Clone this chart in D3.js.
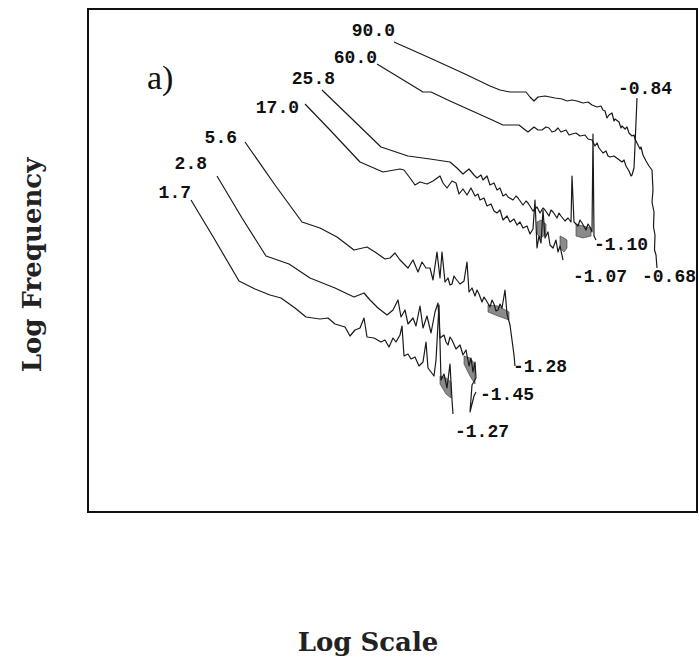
<!DOCTYPE html>
<html>
<head>
<meta charset="utf-8">
<script src="https://cdn.jsdelivr.net/npm/d3@7"></script>
<style>
  body { margin: 0; background: #fff; }
  svg { display: block; }
  .frame { fill: none; stroke: #111; stroke-width: 2; }
  .curve { fill: none; stroke: #1a1a1a; stroke-width: 1.2; stroke-linejoin: round; }
  .shade { fill: #8a8a8a; stroke: #333; stroke-width: 0.6; }
  .lbl { font-family: "Liberation Mono", monospace; font-weight: bold; font-size: 18px; fill: #111; }
  .panel { font-family: "Liberation Serif", serif; font-size: 34px; fill: #111; }
  .axis-title { font-family: "DejaVu Serif", serif; font-weight: bold; font-size: 26px; fill: #222; }
</style>
</head>
<body>
<svg id="chart"></svg>
<script>
// Log-log frequency spectra, one curve per scale.
// x = log scale, y = log frequency (arbitrary log units, no ticks in the original)

const curveLabels = ["90.0", "60.0", "25.8", "17.0", "5.6", "2.8", "1.7"];
const slopeLabels = ["-0.68", "-0.84", "-1.10", "-1.07", "-1.28", "-1.45", "-1.27"];

const s900 = [[3.06,4.70],[3.42,4.54],[3.77,4.38],[4.02,4.26],[4.12,4.22],[4.22,4.20],[4.38,4.20],[4.42,4.15],[4.46,4.11],[4.50,4.15],[4.57,4.16],[4.67,4.14],[4.74,4.13],[4.79,4.11],[4.84,4.12],[4.89,4.11],[4.95,4.09],[5.00,4.10],[5.04,4.07],[5.09,4.05],[5.13,4.06],[5.15,4.02],[5.17,4.01],[5.19,3.94],[5.21,3.97],[5.24,3.99],[5.26,3.91],[5.27,3.93],[5.31,3.90],[5.33,3.84],[5.34,3.86],[5.37,3.83],[5.39,3.85],[5.41,3.79],[5.44,3.76],[5.46,3.77],[5.47,3.73],[5.49,3.69],[5.52,3.63],[5.53,3.65],[5.55,3.57],[5.58,3.51],[5.61,3.46],[5.64,3.42],[5.65,3.22],[5.64,3.10],[5.66,3.00],[5.655,2.85],[5.67,2.77],[5.665,2.62],[5.68,2.57],[5.69,2.44]];
const s600 = [[2.89,4.48],[3.12,4.34],[3.35,4.20],[3.43,4.20],[3.62,4.11],[3.82,4.02],[4.02,3.93],[4.15,3.87],[4.31,3.87],[4.36,3.83],[4.40,3.80],[4.46,3.85],[4.50,3.82],[4.54,3.82],[4.58,3.85],[4.61,3.84],[4.64,3.80],[4.67,3.81],[4.70,3.84],[4.73,3.80],[4.78,3.82],[4.81,3.77],[4.84,3.78],[4.88,3.79],[4.92,3.76],[4.97,3.77],[5.00,3.73],[5.04,3.72],[5.07,3.66],[5.09,3.69],[5.11,3.64],[5.15,3.59],[5.18,3.61],[5.20,3.56],[5.22,3.55],[5.26,3.56],[5.30,3.53],[5.34,3.50],[5.36,3.52],[5.38,3.46],[5.41,3.41],[5.43,3.36],[5.44,3.37],[5.46,3.44],[5.47,3.66],[5.49,4.14]];
const s258 = [[2.34,4.22],[2.62,3.95],[2.93,3.65],[3.20,3.56],[3.42,3.53],[3.62,3.50],[3.69,3.44],[3.75,3.38],[3.81,3.43],[3.86,3.37],[3.89,3.34],[3.93,3.37],[3.95,3.32],[3.99,3.36],[4.02,3.27],[4.06,3.29],[4.09,3.22],[4.12,3.24],[4.15,3.16],[4.18,3.18],[4.20,3.15],[4.25,3.12],[4.28,3.16],[4.30,3.14],[4.35,3.07],[4.38,3.11],[4.40,3.09],[4.45,3.01],[4.49,3.05],[4.52,2.99],[4.55,3.04],[4.57,3.02],[4.61,2.96],[4.63,3.02],[4.65,3.00],[4.69,2.94],[4.71,2.99],[4.73,2.96],[4.77,2.91],[4.80,2.94],[4.83,2.90],[4.84,3.36],[4.86,2.90],[4.90,2.86],[4.92,2.92],[4.94,2.89],[4.98,2.82],[5.00,2.88],[5.02,2.85],[5.04,2.80],[5.05,3.78],[5.06,2.76],[5.08,2.72]];
const s170 = [[2.17,4.08],[2.42,3.82],[2.72,3.50],[2.95,3.40],[3.12,3.43],[3.16,3.42],[3.22,3.34],[3.27,3.27],[3.32,3.30],[3.39,3.28],[3.45,3.31],[3.52,3.36],[3.55,3.29],[3.59,3.24],[3.64,3.31],[3.68,3.29],[3.71,3.18],[3.75,3.23],[3.79,3.17],[3.83,3.24],[3.87,3.16],[3.90,3.18],[3.92,3.12],[3.96,3.14],[3.99,3.06],[4.03,3.08],[4.06,3.01],[4.09,2.99],[4.12,3.02],[4.15,2.92],[4.19,2.96],[4.22,2.90],[4.26,2.93],[4.29,2.87],[4.32,2.90],[4.35,2.84],[4.39,2.86],[4.42,2.78],[4.45,2.83],[4.47,3.12],[4.49,2.64],[4.51,2.76],[4.53,2.69],[4.55,3.02],[4.57,2.74],[4.60,2.80],[4.62,2.67],[4.65,2.64],[4.68,2.72],[4.70,2.60],[4.72,2.66],[4.75,2.52]];
const s56 = [[1.57,3.70],[1.87,3.27],[2.14,2.90],[2.32,2.84],[2.49,2.75],[2.66,2.62],[2.79,2.65],[2.87,2.60],[2.97,2.53],[3.02,2.54],[3.07,2.59],[3.12,2.52],[3.17,2.47],[3.20,2.44],[3.25,2.52],[3.30,2.40],[3.34,2.50],[3.38,2.44],[3.42,2.44],[3.45,2.32],[3.49,2.60],[3.52,2.34],[3.54,2.60],[3.57,2.30],[3.60,2.34],[3.62,2.27],[3.64,2.28],[3.66,2.36],[3.68,2.33],[3.72,2.28],[3.76,2.31],[3.79,2.50],[3.81,2.20],[3.84,2.24],[3.87,2.16],[3.89,2.22],[3.91,2.18],[3.94,2.10],[3.96,2.15],[3.98,2.12],[4.02,2.05],[4.04,2.12],[4.06,2.08],[4.08,2.01],[4.10,2.02],[4.12,2.08],[4.14,2.04],[4.17,2.22],[4.19,1.98],[4.22,1.87],[4.24,1.72],[4.26,1.57],[4.27,1.46]];
const s28 = [[1.29,3.36],[1.54,2.94],[1.78,2.56],[2.01,2.48],[2.22,2.34],[2.47,2.24],[2.66,2.15],[2.76,2.19],[2.82,2.12],[2.90,2.04],[2.99,1.97],[3.05,2.02],[3.10,2.12],[3.13,1.95],[3.17,2.02],[3.20,1.88],[3.25,1.94],[3.28,1.86],[3.32,2.06],[3.35,1.84],[3.39,1.96],[3.43,1.79],[3.47,2.00],[3.50,2.09],[3.52,1.74],[3.56,1.77],[3.58,1.70],[3.60,1.67],[3.62,1.75],[3.64,1.72],[3.68,1.63],[3.72,1.67],[3.75,1.57],[3.78,1.62],[3.81,1.46],[3.83,1.54],[3.85,1.40],[3.87,1.50],[3.88,1.34],[3.84,1.27],[3.82,1.00],[3.86,1.16],[3.88,1.20]];
const s17 = [[1.03,3.12],[1.27,2.72],[1.51,2.31],[1.67,2.23],[1.82,2.17],[1.93,2.14],[2.07,2.04],[2.18,1.95],[2.32,1.93],[2.40,1.94],[2.47,1.88],[2.57,1.85],[2.62,1.76],[2.67,1.82],[2.72,1.84],[2.76,1.94],[2.79,1.75],[2.86,1.74],[2.93,1.70],[2.97,1.72],[3.01,1.65],[3.05,1.74],[3.08,1.70],[3.12,1.77],[3.14,1.86],[3.16,1.56],[3.20,1.58],[3.23,1.53],[3.27,1.55],[3.31,1.46],[3.35,1.50],[3.38,1.70],[3.40,1.44],[3.43,1.40],[3.46,1.36],[3.48,1.52],[3.51,2.07],[3.53,1.32],[3.56,1.38],[3.59,1.24],[3.62,1.48],[3.64,1.12],[3.65,0.98]];

// dense, over-plotted stretches that print as grey: [x, yTop, yBottom]
const shadeA = [[4.49,2.90,2.78],[4.53,2.92,2.74],[4.58,2.88,2.78]];
const shadeB = [[4.72,2.76,2.64],[4.76,2.74,2.60],[4.79,2.72,2.64]];
const shadeC = [[4.88,2.88,2.76],[4.95,2.86,2.74],[5.03,2.84,2.76]];
const shadeD = [[4.00,2.07,2.00],[4.10,2.06,1.96],[4.21,2.00,1.92]];
const shadeE = [[3.76,1.56,1.48],[3.82,1.54,1.36],[3.87,1.48,1.28]];
const shadeF = [[3.52,1.36,1.28],[3.58,1.34,1.18],[3.63,1.30,1.14]];

const curves = [s900, s600, s258, s170, s56, s28, s17];
const shades = [shadeA, shadeB, shadeC, shadeD, shadeE, shadeF];

// label nudges in px: [dx, dy] from curve start (name) / curve end (slope)
const nameNudge = [[1,-6],[0,-1],[13,-6],[-6,9],[-8,1],[-10,-7],[0,-2]];
const slopeNudge = [[-15,14],[-19,-4],[-2,10],[10,22],[-2,6],[4,8],[2,23]];

const W = 699, H = 665;
const frame = { left: 88, right: 697, top: 9, bottom: 512 };

const svg = d3.select("#chart").attr("width", W).attr("height", H);

const x = d3.scaleLinear().domain([0, 6.09]).range([frame.left, frame.right]);
const y = d3.scaleLinear().domain([0, 5.03]).range([frame.bottom, frame.top]);

svg.append("rect").attr("class", "frame")
  .attr("x", frame.left).attr("y", frame.top)
  .attr("width", frame.right - frame.left).attr("height", frame.bottom - frame.top);

const area = d3.area().x((d) => x(d[0])).y0((d) => y(d[2])).y1((d) => y(d[1]));
svg.append("g").selectAll("path").data(shades).join("path")
  .attr("class", "shade").attr("d", area);

const line = d3.line().x((d) => x(d[0])).y((d) => y(d[1]));
svg.append("g").selectAll("path").data(curves).join("path")
  .attr("class", "curve").attr("d", line);

// scale labels at the top-left end of each curve
svg.append("g").selectAll("text").data(curves).join("text")
  .attr("class", "lbl").attr("text-anchor", "end")
  .attr("x", (d, i) => x(d[0][0]) + nameNudge[i][0])
  .attr("y", (d, i) => y(d[0][1]) + nameNudge[i][1])
  .text((d, i) => curveLabels[i]);

// fitted slopes at the tail end
svg.append("g").selectAll("text").data(curves).join("text")
  .attr("class", "lbl").attr("text-anchor", "start")
  .attr("x", (d, i) => x(d[d.length - 1][0]) + slopeNudge[i][0])
  .attr("y", (d, i) => y(d[d.length - 1][1]) + slopeNudge[i][1])
  .text((d, i) => slopeLabels[i]);

svg.append("text").attr("class", "panel").attr("x", 147).attr("y", 89).text("a)");

svg.append("text").attr("class", "axis-title").attr("text-anchor", "middle")
  .attr("transform", `translate(41,265) rotate(-90)`).text("Log Frequency");
svg.append("text").attr("class", "axis-title").attr("text-anchor", "middle")
  .attr("x", 368).attr("y", 651).text("Log Scale");
</script>
</body>
</html>
